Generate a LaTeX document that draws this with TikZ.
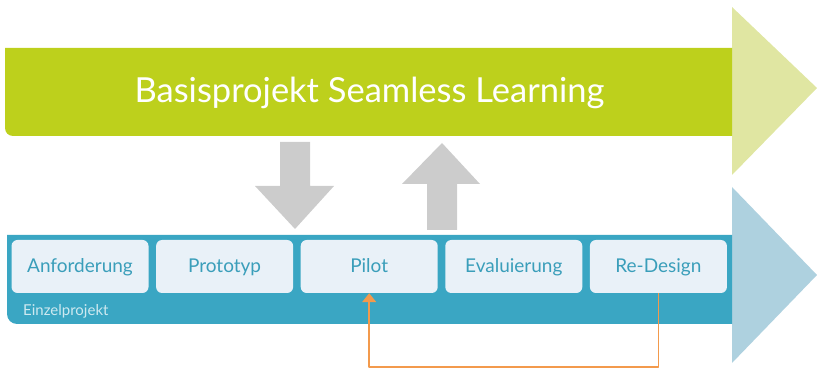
\documentclass[tikz,border=0pt]{standalone}
\usepackage{fontspec}
\setmainfont{Lato}
\usetikzlibrary{arrows.meta}
\definecolor{basisgreen}{RGB}{189,208,28}
\definecolor{lightgreen}{RGB}{224,230,162}
\definecolor{barblue}{RGB}{58,166,195}
\definecolor{lightblue}{RGB}{174,209,223}
\definecolor{boxfill}{RGB}{233,241,248}
\definecolor{boxtext}{RGB}{58,158,186}
\definecolor{pfeilgrau}{RGB}{204,204,204}
\definecolor{loopOrange}{RGB}{243,154,76}
\begin{document}
\begin{tikzpicture}[x=1pt, y=1pt, line join=round]
			\tikzset{phase/.style={fill=boxfill, rounded corners=6pt, minimum width=137pt, minimum height=53pt, inner sep=0pt,
					text=boxtext, font=\fontsize{19}{19}\selectfont, text height=15pt, text depth=2pt}}
			\def\xe{732} \def\xs{817}
			\useasboundingbox (0,0) rectangle (817,369);
			% Basisprojekt
			\fill[lightgreen] (\xe,362) -- (\xs,281) -- (\xe,194) -- cycle;
			\fill[basisgreen] (5,321) -- (5,241) arc[start angle=180, end angle=270, radius=8] -- (\xe,233) -- (\xe,321) -- cycle;
			\node[text=white, font=\fontsize{34.5}{34.5}\selectfont, anchor=base, inner sep=0pt] (titel) at (369.5,266) {Basisprojekt Seamless Learning};
			% Einzelprojekt
			\fill[lightblue] (\xe,182) -- (\xs,94) -- (\xe,6) -- cycle;
			\fill[barblue] (7,134) -- (7,55) arc[start angle=180, end angle=270, radius=10] -- (\xe,45) -- (\xe,134) -- cycle;
			\foreach \n/\t [count=\i from 0] in {anf/Anforderung, proto/Prototyp, pilot/Pilot, eval/Evaluierung, redesign/Re-Design}
			{\node[phase] (\n) at (80+144.6*\i, 102.5) {\t};}
			\node[anchor=base west, inner sep=0pt, text=white!75!barblue, font=\fontsize{15}{15}\selectfont] (einzel) at (23,53) {Einzelprojekt};
			% grey arrows
			\fill[pfeilgrau] (280,227) -- (310,227) -- (310,183) -- (334,183) -- (295,140) -- (255,183) -- (280,183) -- cycle;
			\fill[pfeilgrau] (427,139) -- (457,139) -- (457,185) -- (480,185) -- (442,226) -- (402,185) -- (427,185) -- cycle;
			% loop back
			\draw[loopOrange, line width=1.6pt, -{Triangle[width=14pt,length=9pt]}] (redesign.south) -- ++(0,-74) -| (pilot.south);
		\end{tikzpicture}
\end{document}
